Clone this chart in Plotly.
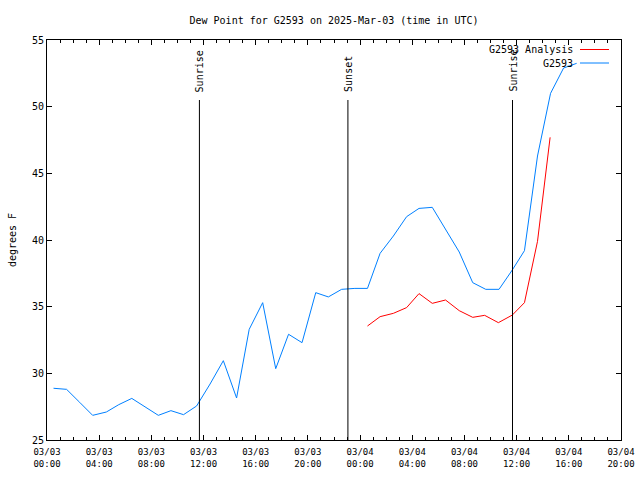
import plotly.graph_objects as go

# ---- data ----
obs_times = [
    "2025-03-03 00:30", "2025-03-03 01:30", "2025-03-03 02:30", "2025-03-03 03:30",
    "2025-03-03 04:33", "2025-03-03 05:30", "2025-03-03 06:30", "2025-03-03 07:30",
    "2025-03-03 08:32", "2025-03-03 09:30", "2025-03-03 10:28", "2025-03-03 11:28",
    "2025-03-03 12:30", "2025-03-03 13:31", "2025-03-03 14:32", "2025-03-03 15:30",
    "2025-03-03 16:32", "2025-03-03 17:32", "2025-03-03 18:31", "2025-03-03 19:33",
    "2025-03-03 20:36", "2025-03-03 21:34", "2025-03-03 22:35", "2025-03-03 23:36",
    "2025-03-04 00:34", "2025-03-04 01:32", "2025-03-04 02:33", "2025-03-04 03:34",
    "2025-03-04 04:31", "2025-03-04 05:32", "2025-03-04 06:35", "2025-03-04 07:36",
    "2025-03-04 08:38", "2025-03-04 09:38", "2025-03-04 10:39", "2025-03-04 11:40",
    "2025-03-04 12:36", "2025-03-04 13:36", "2025-03-04 14:36", "2025-03-04 15:36",
    "2025-03-04 16:36",
]
obs_values = [
    28.88, 28.80, 27.83, 26.85, 27.10, 27.65, 28.12, 27.50,
    26.85, 27.20, 26.90, 27.55, 29.20, 30.95, 28.15, 33.30,
    35.30, 30.35, 32.93, 32.30, 36.05, 35.73, 36.30, 36.37,
    36.37, 39.00, 40.30, 41.75, 42.37, 42.45, 40.75, 39.10,
    36.80, 36.30, 36.30, 37.75, 39.20, 46.30, 51.00, 52.90,
    53.25,
]

ana_times = [
    "2025-03-04 00:34", "2025-03-04 01:32", "2025-03-04 02:33", "2025-03-04 03:34",
    "2025-03-04 04:31", "2025-03-04 05:32", "2025-03-04 06:33", "2025-03-04 07:36",
    "2025-03-04 08:38", "2025-03-04 09:33", "2025-03-04 10:36", "2025-03-04 11:40",
    "2025-03-04 12:36", "2025-03-04 13:36", "2025-03-04 14:34",
]
ana_values = [
    33.55, 34.25, 34.50, 34.93, 35.98, 35.25, 35.50, 34.70,
    34.20, 34.35, 33.80, 34.37, 35.30, 39.90, 47.70,
]

event_labels = ["Sunrise", "Sunset", "Sunrise"]
event_times = ["2025-03-03 11:41", "2025-03-03 23:04", "2025-03-04 11:41"]
event_top = 50.5

x_range = ["2025-03-03 00:00", "2025-03-04 20:00"]
y_range = [25, 55]

title = "Dew Point for G2593 on 2025-Mar-03 (time in UTC)"
y_title = "degrees F"
legend_names = ["G2593 Analysis", "G2593"]
colors = ["#ff0000", "#0080ff"]

FONT = "DejaVu Sans Mono"

W, H = 640, 480
ML, MR, MT, MB = 47, 19, 40, 40
PW, PH = W - ML - MR, H - MT - MB

fig = go.Figure()
fig.add_trace(go.Scatter(x=ana_times, y=ana_values, mode="lines",
                         line=dict(color=colors[0], width=1), name=legend_names[0]))
fig.add_trace(go.Scatter(x=obs_times, y=obs_values, mode="lines",
                         line=dict(color=colors[1], width=1), name=legend_names[1]))

for lab, t in zip(event_labels, event_times):
    fig.add_shape(type="line", xref="x", yref="y", x0=t, x1=t, y0=y_range[0], y1=event_top,
                  line=dict(color="black", width=1))
    fig.add_annotation(x=t, y=event_top, xref="x", yref="y", text=lab, textangle=-90,
                       showarrow=False, yanchor="bottom", xanchor="center", yshift=6,
                       font=dict(family=FONT, size=10, color="black"))

# gnuplot-style legend (text right-aligned, sample line to the right)
for i, name in enumerate(legend_names):
    ypix = 9.5 + i * 13.5
    yp = 1 - ypix / PH
    fig.add_annotation(x=(575 - ML) / PW, y=yp, xref="paper", yref="paper", text=name,
                       showarrow=False, xanchor="right", yanchor="middle",
                       font=dict(family=FONT, size=10, color="black"))
    fig.add_shape(type="line", xref="paper", yref="paper",
                  x0=(580 - ML) / PW, x1=(609 - ML) / PW, y0=yp, y1=yp,
                  line=dict(color=colors[i], width=1))

fig.update_layout(
    width=W, height=H,
    margin=dict(l=ML, r=MR, t=MT, b=MB, autoexpand=False),
    paper_bgcolor="white", plot_bgcolor="white",
    showlegend=False,
    title=dict(text=title, x=0.5, xref="paper", xanchor="center", y=1 - 20 / H,
               yanchor="middle", font=dict(family=FONT, size=10, color="black")),
    font=dict(family=FONT, size=10, color="black"),
)
fig.update_xaxes(
    type="date", range=x_range, dtick=4 * 3600 * 1000, tick0="2025-03-03 00:00",
    tickformat="%m/%d<br>%H:%M", ticks="inside", ticklen=5, tickcolor="black",
    showline=True, linecolor="black", linewidth=1, mirror="allticks",
    showgrid=False, zeroline=False, automargin=False, ticklabelstandoff=3,
    tickfont=dict(family=FONT, size=9, color="black"),
    minor=dict(dtick=3600 * 1000, ticks="inside", ticklen=3, tickcolor="black", showgrid=False),
)
fig.update_yaxes(
    range=y_range, dtick=5, ticks="inside", ticklen=5, tickcolor="black",
    showline=True, linecolor="black", linewidth=1, mirror="allticks",
    showgrid=False, zeroline=False, automargin=False,
    tickfont=dict(family=FONT, size=10, color="black"),
    title=dict(text=y_title, font=dict(family=FONT, size=10, color="black"), standoff=13),
)

fig.write_html("out.html",
               config={"displayModeBar": False},
               post_script="document.body.style.margin='0px';document.body.style.overflow='hidden';")
